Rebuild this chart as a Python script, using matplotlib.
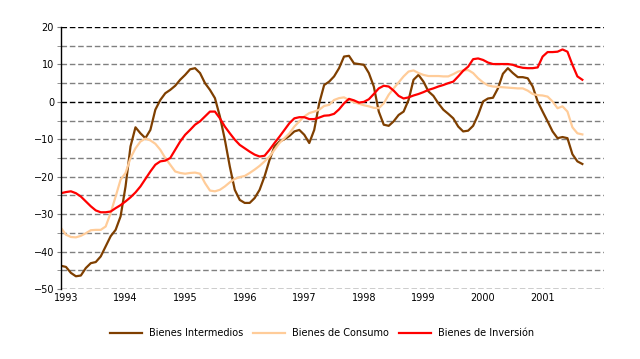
import matplotlib
matplotlib.use("Agg")
import matplotlib.pyplot as plt
import numpy as np

# meses desde dic-1992 hasta sep-2001
START_YEAR = 1992 + 11 / 12

intermedios = [
    -43.8, -44.1, -45.7, -46.6, -46.4, -44.4, -43.1, -42.8, -41.3, -38.6,
    -35.9, -34.2, -30.6, -22.6, -11.9, -6.8, -8.4, -9.7, -7.5, -2.1,
    0.5, 2.3, 3.2, 4.3, 5.9, 7.2, 8.7, 9.0, 7.7, 5.0,
    3.2, 1.0, -3.9, -10.1, -17.3, -23.5, -26.2, -27.0, -27.0, -25.7,
    -23.5, -19.9, -15.5, -11.9, -10.6, -10.0, -9.1, -7.9, -7.5, -8.8,
    -11.0, -7.5, -0.4, 4.5, 5.4, 6.8, 9.0, 12.1, 12.3, 10.3,
    10.1, 9.9, 7.7, 4.1, -2.6, -6.1, -6.4, -5.2, -3.5, -2.6,
    0.5, 5.9, 7.2, 5.4, 2.8, 1.6, -0.4, -2.1, -3.2, -4.4,
    -6.6, -7.9, -7.7, -6.4, -3.5, 0.1, 0.9, 1.1, 3.6, 7.5,
    9.0, 7.7, 6.6, 6.6, 6.3, 4.1, 0.1, -2.6, -5.2, -7.9,
    -9.7, -9.4, -9.7, -14.0, -15.9, -16.6,
]
consumo = [
    -33.7, -35.5, -36.1, -36.2, -35.8, -35.1, -34.3, -34.2, -34.2, -33.3,
    -29.7, -25.3, -20.8, -19.0, -15.0, -12.4, -10.6, -9.8, -10.3, -11.2,
    -12.8, -15.0, -16.8, -18.6, -19.0, -19.2, -19.0, -18.9, -19.2, -21.7,
    -23.7, -23.9, -23.5, -22.6, -21.5, -20.6, -20.1, -19.8, -19.0, -18.1,
    -17.1, -15.9, -14.6, -12.8, -11.0, -9.7, -8.4, -6.6, -5.2, -3.9,
    -3.0, -2.6, -2.1, -1.1, -0.8, 0.5, 1.0, 1.2, 0.5, -0.1,
    -0.5, -0.9, -1.2, -1.6, -1.7, -0.4, 1.9, 3.6, 5.2, 6.8,
    8.1, 8.4, 7.7, 7.2, 6.9, 6.9, 6.9, 6.8, 6.8, 7.4,
    8.1, 8.4, 8.5, 7.7, 6.3, 5.2, 4.4, 4.1, 4.0, 3.9,
    3.8, 3.7, 3.6, 3.6, 3.0, 2.1, 1.8, 1.7, 1.4, 0.1,
    -1.7, -1.2, -2.6, -6.8, -8.4, -8.7,
]
inversion = [
    -24.4, -24.1, -23.9, -24.4, -25.3, -26.6, -27.9, -29.0, -29.5, -29.5,
    -29.3, -28.4, -27.6, -26.6, -25.5, -24.2, -22.6, -20.6, -18.6, -16.8,
    -15.9, -15.7, -15.0, -12.8, -10.6, -8.8, -7.5, -6.1, -5.2, -3.9,
    -2.6, -2.6, -4.4, -6.6, -8.4, -10.1, -11.5, -12.4, -13.3, -14.1,
    -14.6, -14.4, -12.8, -11.0, -9.3, -7.5, -5.7, -4.4, -4.1, -4.1,
    -4.6, -4.6, -4.2, -3.7, -3.6, -3.2, -2.0, -0.4, 0.8, 0.4,
    -0.2, 0.0, 0.7, 2.1, 3.6, 4.3, 4.1, 3.0, 1.6, 0.9,
    1.2, 1.7, 2.1, 2.6, 3.2, 3.6, 4.1, 4.5, 5.0, 5.4,
    6.8, 8.3, 9.4, 11.4, 11.6, 11.2, 10.5, 10.1, 10.1, 10.1,
    10.1, 9.9, 9.4, 9.1, 9.0, 9.0, 9.2, 12.1, 13.3, 13.3,
    13.4, 14.0, 13.4, 9.9, 6.8, 5.9,
]

years = list(range(1993, 2002))
series = [
    ("Bienes Intermedios", intermedios, "#7F3F00"),
    ("Bienes de Consumo", consumo, "#FFCC99"),
    ("Bienes de Inversión", inversion, "#FF0000"),
]

fig = plt.figure(figsize=(6.4, 3.59), dpi=100)
ax = fig.add_axes([61 / 640, 1 - 289 / 359, 543 / 640, 262 / 359])

# rejilla discontinua (negra en 20, 0 y -50)
for v in range(-50, 21, 5):
    col = "black" if v in (20, 0, -50) else "#808080"
    ax.axhline(v, color=col, lw=1, ls=(0, (4, 2)), zorder=1)

for label, vals, col in series:
    t = START_YEAR + np.arange(len(vals)) / 12
    ax.plot(t, vals, color=col, lw=1.6, label=label, zorder=3)

ax.set_xlim(START_YEAR, 2002.03)
ax.set_ylim(-50, 20)
ax.set_yticks(range(-50, 21, 10))
ax.set_yticks(range(-45, 20, 10), minor=True)
ax.set_xticks(years)
ax.set_xticklabels([str(y) for y in years])
ax.tick_params(axis="y", which="both", length=3, color="#808080", labelsize=7, pad=2)
ax.tick_params(axis="x", length=0, labelsize=7, pad=3)
for s in ("top", "right", "bottom"):
    ax.spines[s].set_visible(False)
ax.spines["left"].set_linewidth(1)
ax.spines["left"].set_zorder(4)

fig.legend(loc="center", bbox_to_anchor=(322 / 640, 1 - 333 / 359), ncol=3,
           frameon=False, fontsize=7, handlelength=3.3, handletextpad=0.7,
           columnspacing=1.0)

fig.savefig("out.png", dpi=100)
